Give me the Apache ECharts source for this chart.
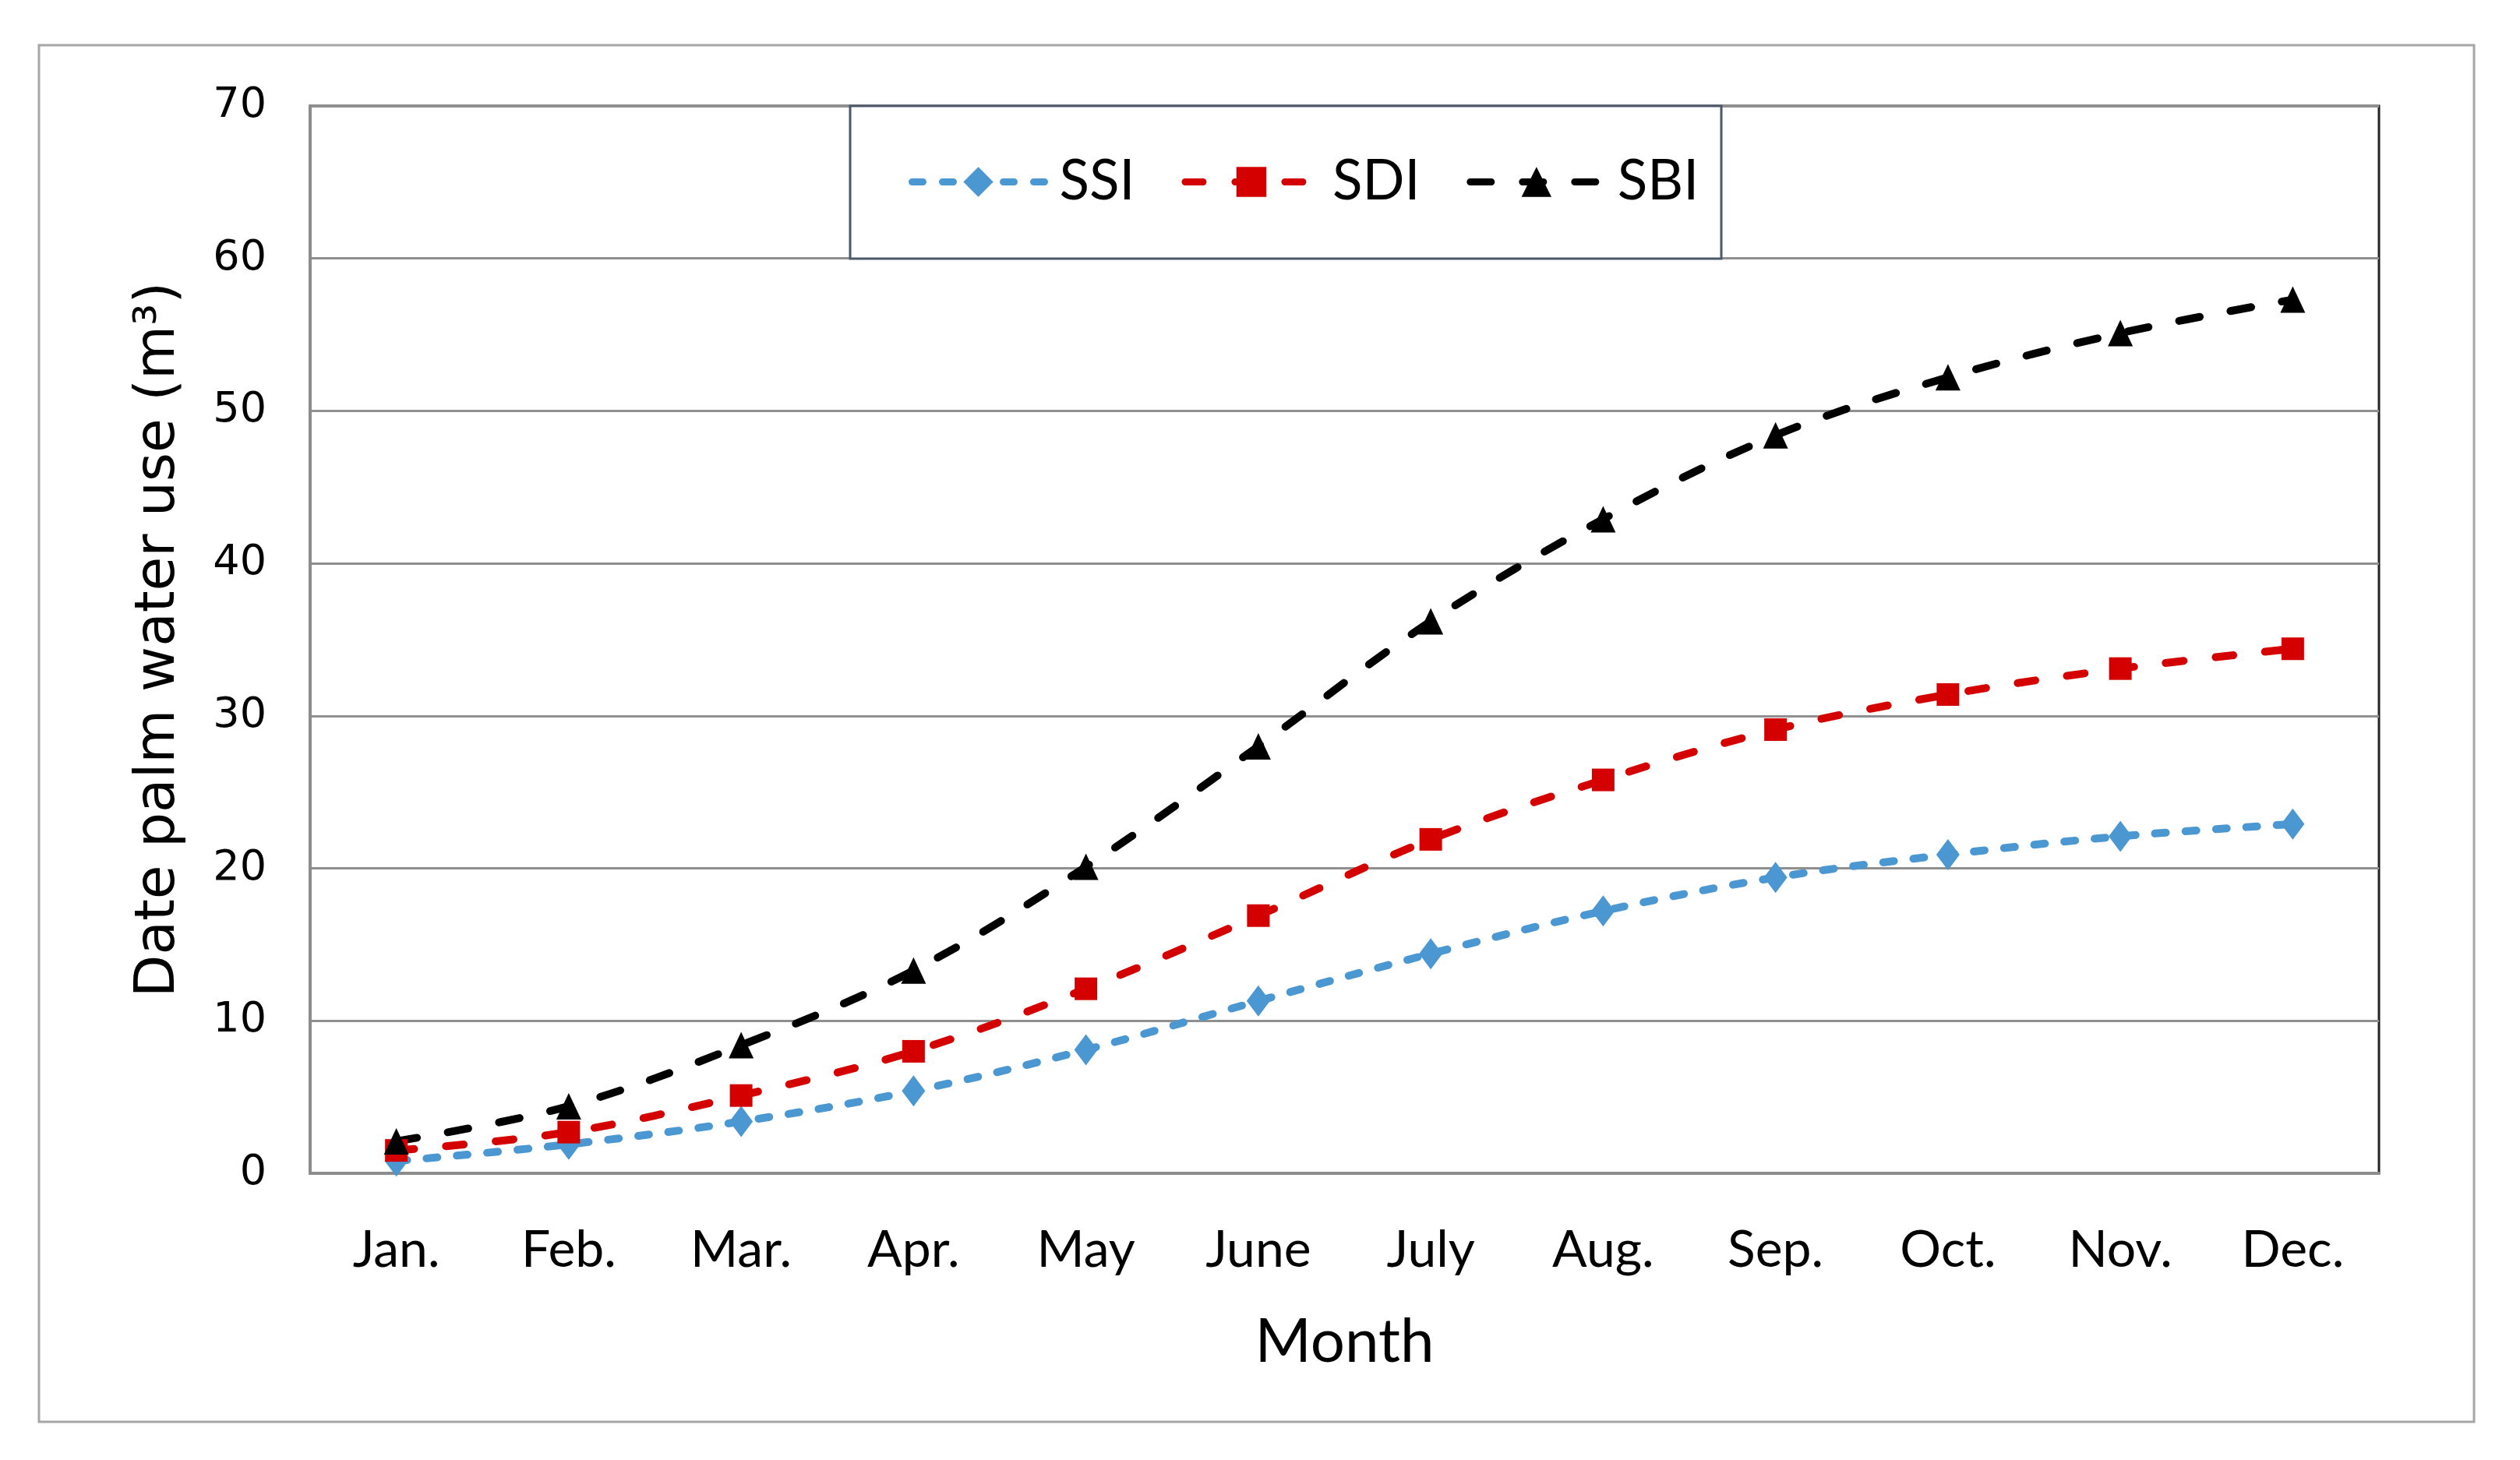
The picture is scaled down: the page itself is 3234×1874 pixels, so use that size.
<!DOCTYPE html>
<html>
<head>
<meta charset="utf-8">
<script src="https://cdn.jsdelivr.net/npm/echarts@6/dist/echarts.min.js"></script>
<style>
html,body{margin:0;padding:0;background:#fff;}
#chart{width:3234px;height:1874px;}
</style>
</head>
<body>
<div id="chart"></div>
<script>
const months = ['Jan.','Feb.','Mar.','Apr.','May','June','July','Aug.','Sep.','Oct.','Nov.','Dec.'];
const ssi = [0.8, 1.9, 3.4, 5.4, 8.1, 11.3, 14.4, 17.2, 19.4, 20.9, 22.1, 22.9];
const sdi = [1.5, 2.7, 5.1, 8.0, 12.1, 16.9, 21.9, 25.8, 29.1, 31.4, 33.1, 34.4];
const sbi = [2.1, 4.4, 8.4, 13.3, 20.1, 28.0, 36.2, 42.9, 48.4, 52.2, 55.1, 57.3];
const yTicks = {min: 0, max: 70, interval: 10};

const narrow = 'Lato, "Open Sans", sans-serif';
const verd = '"DejaVu Sans", Verdana, sans-serif';
const chart = echarts.init(document.getElementById('chart'));
chart.setOption({
  animation: false,
  backgroundColor: '#ffffff',
  graphic: [
    {type: 'rect', z: -1, shape: {x: 50, y: 58, width: 3125, height: 1767},
     style: {fill: 'none', stroke: '#a6a6a6', lineWidth: 3}},
    {type: 'rect', z: 3, shape: {x: 1091, y: 136, width: 1118, height: 196},
     style: {fill: '#ffffff', stroke: '#4a5869', lineWidth: 3}}
  ],
  grid: {left: 398, right: 181, top: 136, bottom: 368, show: true,
         borderColor: '#222222', borderWidth: 3, backgroundColor: 'transparent'},
  legend: {
    left: 1161, top: 193,
    data: ['SSI','SDI','SBI'],
    itemWidth: 170, itemHeight: 48, itemGap: 60,
    lineStyle: {width: 9},
    textStyle: {fontFamily: narrow, fontSize: 71, color: '#000', padding: [0,0,0,14]},
    z: 5
  },
  xAxis: {
    type: 'category', data: months, boundaryGap: true,
    name: 'Month', nameLocation: 'middle', nameGap: 178,
    nameTextStyle: {fontFamily: narrow, fontSize: 78, color: '#000'},
    axisLine: {lineStyle: {color: '#8c8c8c', width: 4}},
    axisTick: {show: false},
    axisLabel: {fontFamily: narrow, fontSize: 66, color: '#000', margin: 66}
  },
  yAxis: {
    type: 'value', min: yTicks.min, max: yTicks.max, interval: yTicks.interval,
    name: 'Date palm water use (m³)', nameLocation: 'middle', nameGap: 158,
    nameTextStyle: {fontFamily: verd, fontSize: 71, color: '#000'},
    axisLine: {show: true, lineStyle: {color: '#8c8c8c', width: 4}},
    axisTick: {show: false},
    axisLabel: {fontFamily: verd, fontSize: 54, color: '#000', margin: 56},
    splitLine: {lineStyle: {color: '#8f8f8f', width: 3}}
  },
  series: [
    {name: 'SSI', type: 'line', data: ssi, smooth: 0.35, z: 4,
     symbol: 'diamond', symbolSize: [30, 40],
     itemStyle: {color: '#4a97d2'},
     lineStyle: {color: '#4a97d2', width: 10, type: [14, 25], cap: 'round'}},
    {name: 'SDI', type: 'line', data: sdi, smooth: 0.35, z: 4,
     symbol: 'rect', symbolSize: 29,
     itemStyle: {color: '#d40000'},
     lineStyle: {color: '#d40000', width: 10, type: [23, 41], cap: 'round'}},
    {name: 'SBI', type: 'line', data: sbi, smooth: 0.35, z: 4,
     symbol: 'triangle', symbolSize: [32, 34],
     itemStyle: {color: '#000000'},
     lineStyle: {color: '#000000', width: 10, type: [27, 40], cap: 'round'}}
  ]
});
</script>
</body>
</html>
